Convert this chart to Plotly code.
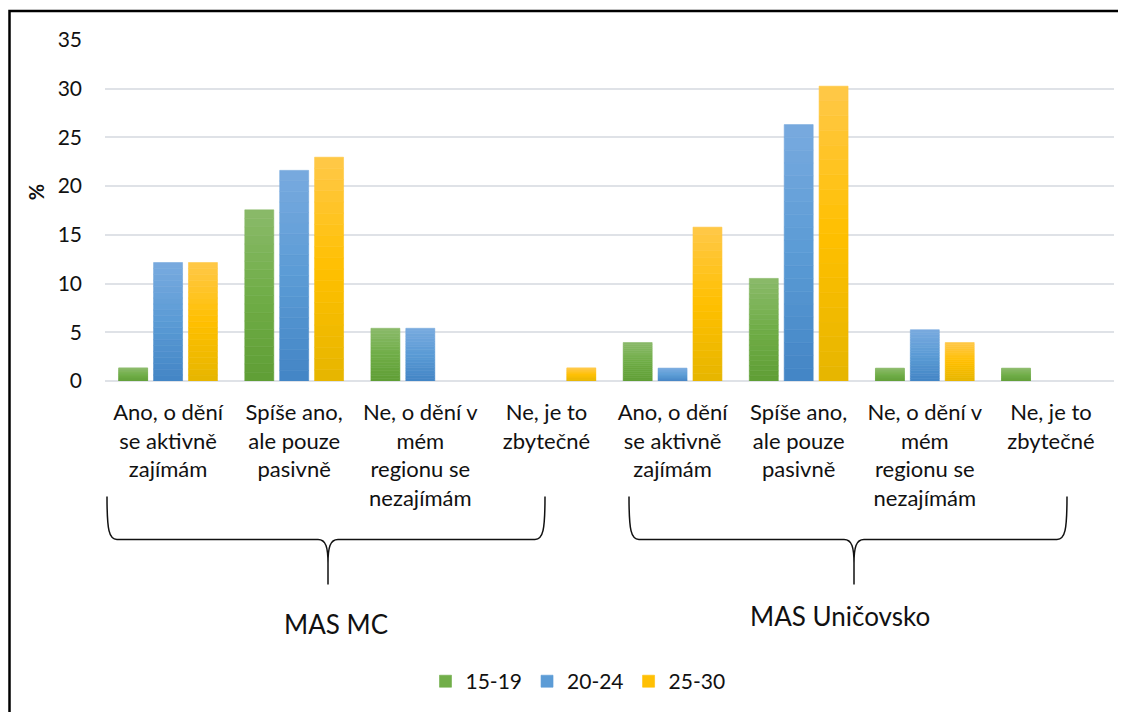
import plotly.graph_objects as go

# ---- data ----
categories = [
    "Ano, o dění<br>se aktivně<br>zajímám",
    "Spíše ano,<br>ale pouze<br>pasivně",
    "Ne, o dění v<br>mém<br>regionu se<br>nezajímám",
    "Ne, je to<br>zbytečné",
]
groups = ["MAS MC", "MAS Uničovsko"]
series_names = ["15-19", "20-24", "25-30"]
v15_19 = [1.35, 17.57, 5.41, 0, 3.95, 10.53, 1.32, 1.32]
v20_24 = [12.16, 21.62, 5.41, 0, 1.32, 26.32, 5.26, 0]
v25_30 = [12.16, 22.97, 0, 1.35, 15.79, 30.26, 3.95, 0]
y_ticks = [0, 5, 10, 15, 20, 25, 30, 35]

# gradient stops (top, middle, bottom) per series
grad = [
    ("#8aba6a", "#70ad47", "#5f9e35"),
    ("#78aadf", "#5b9bd5", "#4385c5"),
    ("#ffc849", "#ffc000", "#e6b500"),
]
N_SEG = 20

# page offset (browser body margin) and reference geometry
OFF = 8
W, H = 1126 - OFF, 712 - OFF
PL, PR, PT, PB = 105, 1114, 40, 380.7   # plot area in reference pixels
PW, PH = PR - PL, PB - PT


def px(x):
    return (x - PL) / PW


def py(y):
    return (PB - y) / PH


def hex2rgb(h):
    h = h.lstrip("#")
    return tuple(int(h[i:i + 2], 16) for i in (0, 2, 4))


def mix(c1, c2, t):
    a, b = hex2rgb(c1), hex2rgb(c2)
    return "rgb(%d,%d,%d)" % tuple(round(a[i] + (b[i] - a[i]) * t) for i in range(3))


def grad_color(stops, f):
    # f: 0 at bottom, 1 at top
    top, mid, bot = stops
    if f < 0.5:
        return mix(bot, mid, f / 0.5)
    return mix(mid, top, (f - 0.5) / 0.5)


FONT = "Lato"
TXT = "#111111"

tick_labels = categories * len(groups)
xs = list(range(len(tick_labels)))

fig = go.Figure()
for si, (name, vals, stops) in enumerate(zip(series_names, [v15_19, v20_24, v25_30], grad)):
    for k in range(N_SEG):
        f = (k + 0.5) / N_SEG
        col = grad_color(stops, f)
        fig.add_trace(go.Bar(
            x=xs,
            y=[(v / N_SEG if v > 0 else None) for v in vals],
            base=[v * k / N_SEG for v in vals],
            name=name, offsetgroup=name, legendgroup=name,
            showlegend=(k == N_SEG // 2), legendrank=si + 1,
            marker=dict(color=col, line=dict(width=0.6, color=col)),
            hoverinfo="skip",
        ))

fig.update_layout(
    width=W, height=H,
    margin=dict(l=PL - OFF, r=1126 - PR, t=PT - OFF, b=H - (PB - OFF), autoexpand=False),
    paper_bgcolor="white", plot_bgcolor="white",
    barmode="group", bargap=0.17, bargroupgap=0.17,
    font=dict(family=FONT, color=TXT),
    showlegend=True,
    legend=dict(orientation="h", x=px(578), xanchor="center", y=py(681), yanchor="middle",
                font=dict(size=21, family=FONT, color=TXT), itemwidth=30, tracegroupgap=0),
)
fig.update_xaxes(
    range=[-0.5, len(xs) - 0.5], tickmode="array", tickvals=xs, ticktext=tick_labels,
    tickangle=0, showgrid=False, zeroline=False, showline=False, ticks="",
    tickfont=dict(size=22, family=FONT, color=TXT), ticklabelstandoff=16,
)
fig.update_yaxes(
    range=[0, 35], tickmode="array", tickvals=y_ticks, showgrid=True,
    gridcolor="#dfe2e7", gridwidth=1.6, zeroline=True, zerolinecolor="#dfe2e7", zerolinewidth=1.6,
    showline=False, ticks="", tickfont=dict(size=21, family=FONT, color=TXT), ticklabelstandoff=22,
)

# y-axis title
fig.add_annotation(text="<b>%</b>", x=px(36), y=py(192), xref="paper", yref="paper",
                   xanchor="center", yanchor="middle",
                   textangle=-90, showarrow=False, font=dict(size=20, family=FONT, color=TXT))


# braces
def brace(xl, xc, xr, ytop=496, yh=539, ytip=584):
    d = (f"M {px(xl)},{py(ytop)} C {px(xl)},{py(ytop+34)} {px(xl+2)},{py(yh)} {px(xl+10)},{py(yh)} "
         f"L {px(xc-10)},{py(yh)} C {px(xc-2)},{py(yh)} {px(xc)},{py(yh+8)} {px(xc)},{py(yh+24)} "
         f"L {px(xc)},{py(ytip)} M {px(xc)},{py(yh+24)} "
         f"C {px(xc)},{py(yh+8)} {px(xc+2)},{py(yh)} {px(xc+10)},{py(yh)} "
         f"L {px(xr-10)},{py(yh)} C {px(xr-2)},{py(yh)} {px(xr)},{py(ytop+34)} {px(xr)},{py(ytop)}")
    return d


for (xl, xc, xr) in [(107, 328, 545), (629, 854, 1067)]:
    fig.add_shape(type="path", path=brace(xl, xc, xr), xref="paper", yref="paper",
                  line=dict(color="#111111", width=1.5))

for g, (gx, gy) in zip(groups, [(336, 623), (840, 615)]):
    fig.add_annotation(text=g, x=px(gx), y=py(gy), xref="paper", yref="paper", showarrow=False,
                       xanchor="center", yanchor="middle",
                       font=dict(size=26, family=FONT, color=TXT))

# outer frame
fig.add_shape(type="rect", xref="paper", yref="paper", x0=px(9.5), y0=py(740), x1=px(1150), y1=py(11),
              line=dict(color="#000000", width=2.5), fillcolor="rgba(0,0,0,0)", layer="above")

fig.write_html("out.html")
